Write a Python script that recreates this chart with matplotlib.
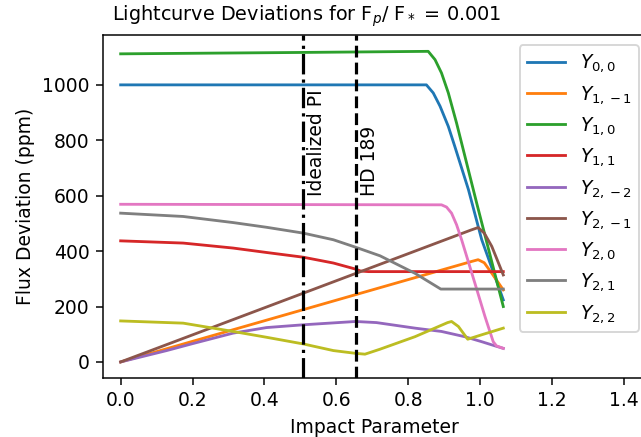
import numpy as np
import matplotlib.pyplot as plt

# impact parameter samples + flux deviation (ppm)
b_00 = [0, 0.851, 0.87, 0.889, 0.912, 0.93, 0.968, 1.005, 1.065]
y_00 = [1000, 1000, 971, 923, 850, 778, 622, 441, 224]

b_1m1 = [0, 0.975, 0.995, 1.012, 1.033, 1.065]
y_1m1 = [0, 362, 369, 358, 320, 260]

b_10 = [0, 0.5, 0.856, 0.875, 0.893, 0.912, 0.935, 0.991, 1.065]
y_10 = [1112, 1117, 1121, 1091, 1043, 971, 862, 573, 200]

b_11 = [0, 0.174, 0.313, 0.406, 0.508, 0.592, 0.654, 0.668, 0.69, 1.065]
y_11 = [437, 429, 411, 395, 378, 357, 335, 328, 326, 326]

b_2m2 = [0, 0.128, 0.2, 0.313, 0.406, 0.508, 0.654, 0.712, 0.819, 0.893, 0.958, 1.005, 1.042, 1.065]
y_2m2 = [0, 41, 66, 104, 124, 134, 146, 142, 122, 110, 91, 73, 58, 49]

b_2m1 = [0, 0.975, 0.995, 1.012, 1.033, 1.065]
y_2m1 = [0, 476, 485, 465, 417, 314]

b_20 = [0, 0.893, 0.907, 0.921, 0.935, 0.949, 0.986, 1.014, 1.037, 1.046, 1.065]
y_20 = [569, 567, 559, 537, 495, 441, 284, 164, 73, 58, 49]

b_21 = [0, 0.174, 0.313, 0.406, 0.508, 0.592, 0.654, 0.722, 0.819, 0.891, 1.065]
y_21 = [537, 525, 503, 486, 465, 441, 414, 383, 320, 263, 263]

b_22 = [0, 0.174, 0.313, 0.406, 0.508, 0.592, 0.654, 0.68, 0.722, 0.819, 0.91, 0.921, 0.94, 0.966, 1.005, 1.065]
y_22 = [148, 140, 110, 89, 65, 41, 31, 28, 46, 91, 142, 146, 128, 82, 98, 122]

labels = [r'$Y_{0,0}$', r'$Y_{1,-1}$', r'$Y_{1,0}$', r'$Y_{1,1}$', r'$Y_{2,-2}$',
          r'$Y_{2,-1}$', r'$Y_{2,0}$', r'$Y_{2,1}$', r'$Y_{2,2}$']
curves = [(b_00, y_00), (b_1m1, y_1m1), (b_10, y_10), (b_11, y_11), (b_2m2, y_2m2),
          (b_2m1, y_2m1), (b_20, y_20), (b_21, y_21), (b_22, y_22)]

b_ideal = 0.508
b_hd189 = 0.654

dpi = 135
fig = plt.figure(figsize=(641 / dpi, 437 / dpi), dpi=dpi)
ax = fig.add_axes([102.7 / 641, 59 / 437, 542.5 / 641, 343 / 437])

for (b, y), lab in zip(curves, labels):
    ax.plot(b, y, label=lab)

ax.axvline(b_ideal, color='k', linestyle='-.', lw=1.7)
ax.axvline(b_hd189, color='k', linestyle='--', lw=1.7)
ax.text(b_ideal + 0.012, 600, 'Idealized PI', rotation=90, ha='left', va='bottom')
ax.text(b_hd189 + 0.012, 600, 'HD 189', rotation=90, ha='left', va='bottom')

ax.set_xlim(-0.05, 1.46)
ax.set_ylim(-58, 1180)
ax.set_xticks(np.arange(0, 1.41, 0.2))
ax.set_xlabel('Impact Parameter')
ax.set_ylabel('Flux Deviation (ppm)')

fig.text(307 / 641, 1 - 21 / 437, r'Lightcurve Deviations for F$_p$/ F$_*$ = 0.001',
         ha='center', va='baseline', fontsize=10.3)

ax.legend(loc='upper right', bbox_to_anchor=(639 / 641, 1 - 45 / 437),
          bbox_transform=fig.transFigure, borderaxespad=0)

fig.savefig('out.png', dpi=dpi)
